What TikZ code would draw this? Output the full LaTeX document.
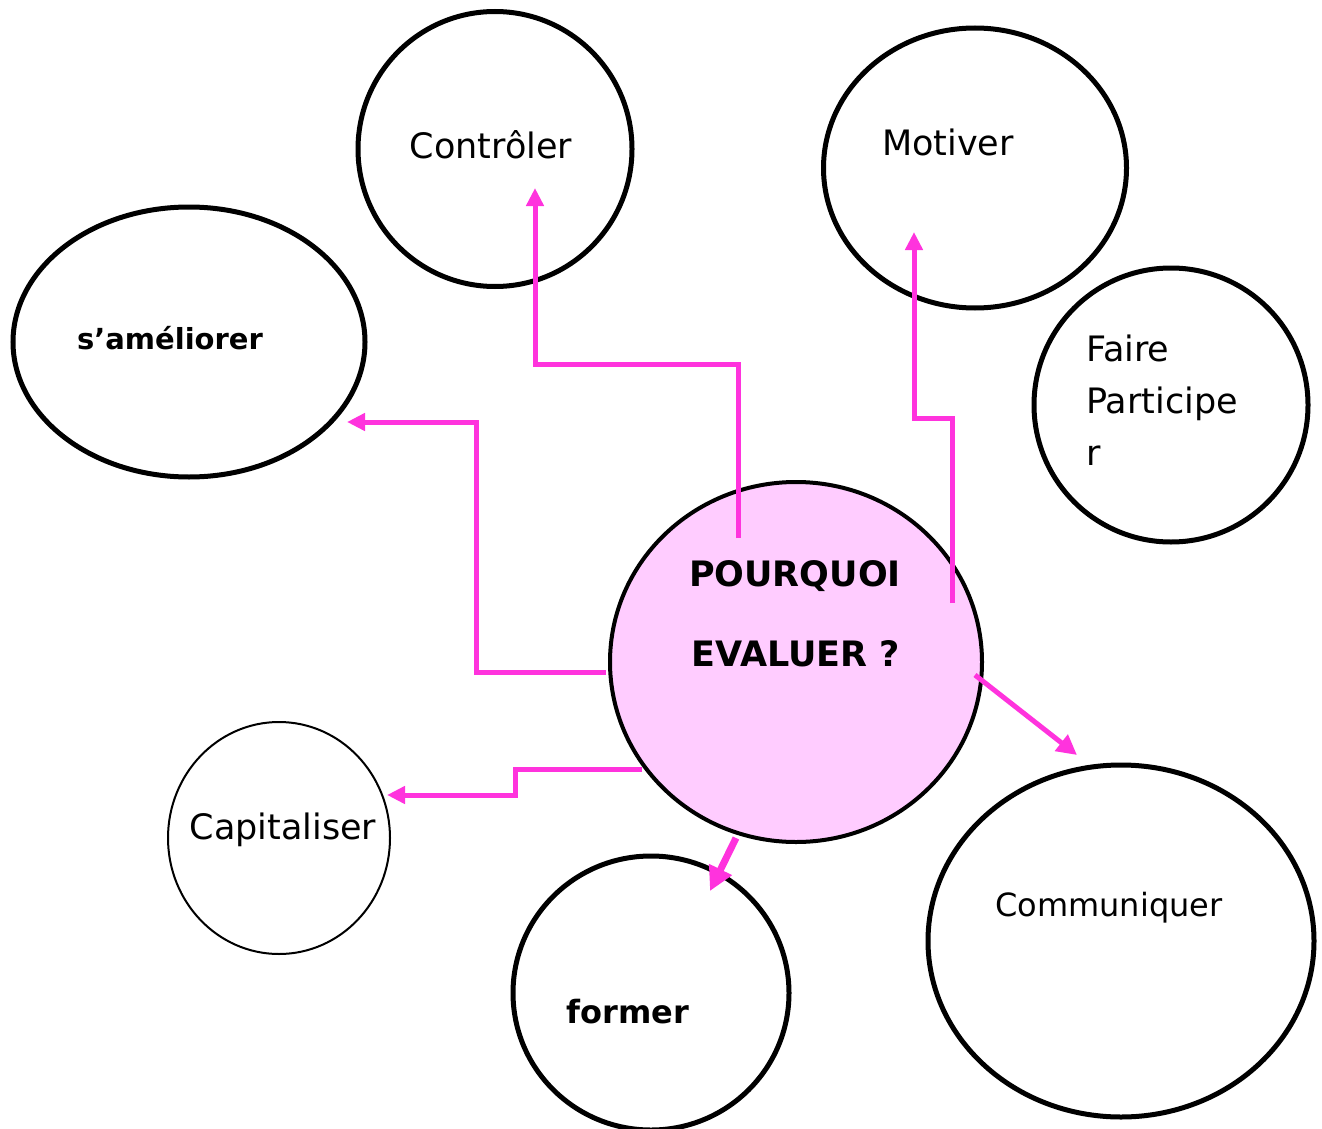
\documentclass[tikz,border=0pt]{standalone}
\usepackage{fontspec}
\setmainfont{DejaVu Sans}
\usetikzlibrary{arrows.meta,shapes.geometric}
\definecolor{lienrose}{RGB}{255,51,221}
\definecolor{fondrose}{RGB}{255,204,255}
\tikzset{
  bulle/.style={draw=black, line width=5pt, ellipse, inner sep=0pt},
  txt/.style={font=\fontsize{35}{40}\selectfont, inner sep=0pt},
  txtb/.style={font=\fontsize{30}{36}\selectfont\bfseries, inner sep=0pt},
  lien/.style={draw=lienrose, line width=5pt, -{Triangle[length=18pt,width=17pt]}},
}
\begin{document}
\begin{tikzpicture}[x=1pt,y=-1pt]
\useasboundingbox (0,0) rectangle (1322,1129);
% bubbles
\node[bulle, minimum width=274pt, minimum height=275pt] (controler) at (495,149) {};
\node[bulle, minimum width=303pt, minimum height=280pt] (motiver) at (975,168) {};
\node[bulle, minimum width=352pt, minimum height=270pt] (ameliorer) at (189,342) {};
\node[bulle, minimum width=274pt, minimum height=274pt] (participer) at (1171,405) {};
\node[bulle, fill=fondrose, line width=4pt, minimum width=372pt, minimum height=360pt] (centre) at (796,662) {};
\node[bulle, line width=2pt, minimum width=222pt, minimum height=232pt] (capitaliser) at (279,838) {};
\node[bulle, minimum width=276pt, minimum height=274pt] (former) at (651,993) {};
\node[bulle, minimum width=386pt, minimum height=352pt] (communiquer) at (1121,941) {};
% texts
\node[txt] (tcontroler) at (491,145) {Contrôler};
\node[txt] (tmotiver) at (948,142) {Motiver};
\node[txtb, font=\fontsize{29}{34}\selectfont\bfseries] (tameliorer) at (170,338) {s’améliorer};
\node[txt, anchor=west, align=left, font=\fontsize{35}{52}\selectfont] (tparticiper) at (1086,400) {Faire\\Participe\\r};
\node[txt] (tcapitaliser) at (283,830) {Capitaliser};
\node[txtb, font=\fontsize{32}{36}\selectfont\bfseries] (tformer) at (628,1012) {former};
\node[txt, font=\fontsize{32}{36}\selectfont] (tcommuniquer) at (1109,908) {Communiquer};
\node[txtb, font=\fontsize{35}{40}\selectfont\bfseries] (tpourquoi) at (795,576) {POURQUOI};
\node[txtb, font=\fontsize{35}{40}\selectfont\bfseries] (tevaluer) at (796,654) {EVALUER ?};
% connector end points
\coordinate (s1) at (738,538);
\coordinate (e1) at (535,188);
\coordinate (s2) at (952,603);
\coordinate (e2) at (914,232);
\coordinate (s3) at (606,672);
\coordinate (e3) at (347,422);
\coordinate (s4) at (642,769);
\coordinate (e4) at (387,795);
\coordinate (s5) at (736,838);
\coordinate (e5) at (710,891);
\coordinate (s6) at (975,675);
\coordinate (e6) at (1077,755);
% connectors
\draw[lien] (s1) -- (738,364) -| (e1);
\draw[lien] (s2) -- (952,418) -| (e2);
\draw[lien] (s3) -- (476,672) |- (e3);
\draw[lien] (s4) -- (515,769) -- (515,795) -- (e4);
\draw[lien, line width=7pt, -{Triangle[length=24pt,width=24pt]}] (s5) -- (e5);
\draw[lien, -{Triangle[length=20pt,width=20pt]}] (s6) -- (e6);
\end{tikzpicture}
\end{document}
